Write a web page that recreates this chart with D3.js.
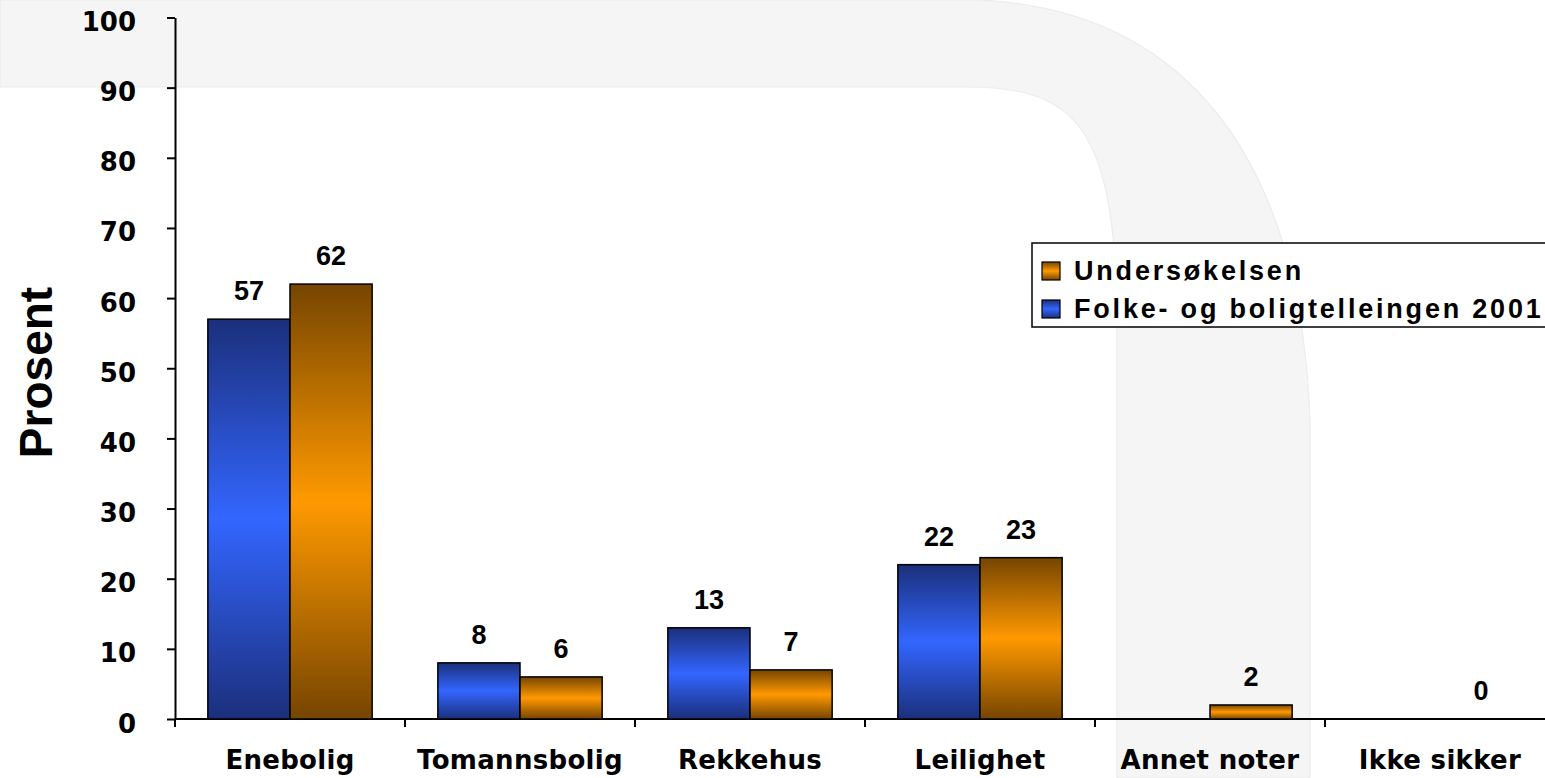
<!DOCTYPE html>
<html>
<head>
<meta charset="utf-8">
<script src="https://cdn.jsdelivr.net/npm/d3@7"></script>
<style>
  html, body { margin: 0; padding: 0; background: #ffffff; }
  svg { display: block; }
</style>
</head>
<body>
<svg id="chart" width="1545" height="778"></svg>
<script>
// ---- data ----
const categories = ["Enebolig", "Tomannsbolig", "Rekkehus", "Leilighet", "Annet noter", "Ikke sikker"];
const folkeValues = [57, 8, 13, 22, null, null];     // Folke- og boligtelleingen 2001 (blue)
const undersValues = [62, 6, 7, 23, 2, 0];            // Undersøkelsen (orange)
const seriesKeys = ["folke", "unders"];
const legendNames = ["Undersøkelsen", "Folke- og boligtelleingen 2001"];
const legendKeys = ["unders", "folke"];
const yTicks = [0, 10, 20, 30, 40, 50, 60, 70, 80, 90, 100];
const yTitle = "Prosent";

// ---- layout ----
const W = 1545, H = 778;
const svg = d3.select("#chart");
const axisX = 175, axisY0 = 719, axisYTop = 17.5;
const bandW = 230;

const x = d3.scaleBand().domain(categories).range([axisX, axisX + bandW * categories.length]).padding(0);
const x1 = d3.scaleBand().domain(seriesKeys).range([0, x.bandwidth()]).paddingInner(0).paddingOuter(0.4);
const y = d3.scaleLinear().domain([0, 100]).range([axisY0, axisYTop]);

const colors = {
  folke: { dark: "#1b2f7b", light: "#3366ff" },
  unders: { dark: "#764500", light: "#ff9900" }
};

// ---- gradients ----
const defs = svg.append("defs");
seriesKeys.forEach(k => {
  const g = defs.append("linearGradient").attr("id", "grad-" + k)
    .attr("x1", 0).attr("y1", 0).attr("x2", 0).attr("y2", 1);
  g.append("stop").attr("offset", "0%").attr("stop-color", colors[k].dark);
  g.append("stop").attr("offset", "50%").attr("stop-color", colors[k].light);
  g.append("stop").attr("offset", "100%").attr("stop-color", colors[k].dark);
});

// ---- decorative background arch ----
svg.append("path")
  .attr("d", "M0,0 L980,0 C1180,10 1300,150 1310,420 L1310," + H +
             " L1117," + H + " L1117,300 C1112,120 1070,87 965,87 L0,87 Z")
  .attr("fill", "#f5f5f5")
  .attr("stroke", "#ececec")
  .attr("stroke-width", 1.2);

// ---- y axis ----
const yAxis = d3.axisLeft(y).tickValues(yTicks).tickSize(8).tickSizeOuter(0);
const gy = svg.append("g").attr("transform", `translate(${axisX},0)`).call(yAxis);
gy.select(".domain").attr("stroke", "#000").attr("stroke-width", 2);
gy.selectAll(".tick line").attr("stroke", "#000").attr("stroke-width", 2);
gy.selectAll(".tick text")
  .attr("x", -39).attr("dy", null).attr("y", 13)
  .attr("fill", "#000")
  .style("font-family", "'DejaVu Sans', sans-serif")
  .style("font-weight", "bold")
  .style("font-size", "26px");

// ---- x axis ----
const xEnd = axisX + bandW * categories.length;
svg.append("line")
  .attr("x1", axisX).attr("x2", xEnd).attr("y1", axisY0).attr("y2", axisY0)
  .attr("stroke", "#000").attr("stroke-width", 2);
const boundaries = categories.map(c => x(c));
svg.append("g").selectAll("line").data(boundaries).join("line")
  .attr("x1", d => d).attr("x2", d => d)
  .attr("y1", axisY0).attr("y2", axisY0 + 8)
  .attr("stroke", "#000").attr("stroke-width", 2);

const xAxis = d3.axisBottom(x).tickSize(0).tickSizeOuter(0);
const gx = svg.append("g").attr("transform", `translate(0,${axisY0})`).call(xAxis);
gx.select(".domain").remove();
gx.selectAll(".tick text")
  .attr("y", 50).attr("dy", null)
  .attr("fill", "#000")
  .style("font-family", "'DejaVu Sans', sans-serif")
  .style("font-weight", "bold")
  .style("font-size", "26px")
  .style("letter-spacing", "0.3px");

// ---- y title ----
svg.append("text")
  .attr("transform", `translate(52,${(287 + 458) / 2}) rotate(-90)`)
  .attr("text-anchor", "middle")
  .style("font-family", "'Liberation Sans', Arial, sans-serif")
  .style("font-weight", "bold")
  .style("font-size", "46px")
  .text(yTitle);

// ---- bars ----
const rows = categories.map((c, i) => ({
  cat: c,
  vals: [{ key: "folke", v: folkeValues[i] }, { key: "unders", v: undersValues[i] }]
}));

const groups = svg.append("g").selectAll("g").data(rows).join("g")
  .attr("transform", d => `translate(${x(d.cat)},0)`);

groups.selectAll("rect").data(d => d.vals.filter(v => v.v !== null)).join("rect")
  .attr("x", d => x1(d.key))
  .attr("width", x1.bandwidth())
  .attr("y", d => y(d.v))
  .attr("height", d => y(0) - y(d.v))
  .attr("fill", d => `url(#grad-${d.key})`)
  .attr("stroke", "#000")
  .attr("stroke-width", 1.5);

groups.selectAll("text.val").data(d => d.vals.filter(v => v.v !== null)).join("text")
  .attr("class", "val")
  .attr("x", d => x1(d.key) + x1.bandwidth() / 2)
  .attr("y", d => y(d.v) - 19)
  .attr("text-anchor", "middle")
  .style("font-family", "'Liberation Sans', Arial, sans-serif")
  .style("font-weight", "bold")
  .style("font-size", "27px")
  .text(d => d.v);

// ---- legend ----
const lg = svg.append("g");
lg.append("rect")
  .attr("x", 1032).attr("y", 243).attr("width", 560).attr("height", 84)
  .attr("fill", "#fff").attr("stroke", "#000").attr("stroke-width", 1.5);
const items = lg.selectAll("g.item").data(legendKeys.map((k, i) => ({ key: k, name: legendNames[i] })))
  .join("g").attr("class", "item")
  .attr("transform", (d, i) => `translate(1042,${262 + i * 38})`);
items.append("rect")
  .attr("width", 18).attr("height", 18)
  .attr("fill", d => `url(#grad-${d.key})`)
  .attr("stroke", "#000").attr("stroke-width", 1.2);
items.append("text")
  .attr("x", 32).attr("y", 18)
  .style("font-family", "'Liberation Sans', Arial, sans-serif")
  .style("font-weight", "bold")
  .style("font-size", "27px")
  .style("letter-spacing", "2.8px")
  .text(d => d.name);
</script>
</body>
</html>
